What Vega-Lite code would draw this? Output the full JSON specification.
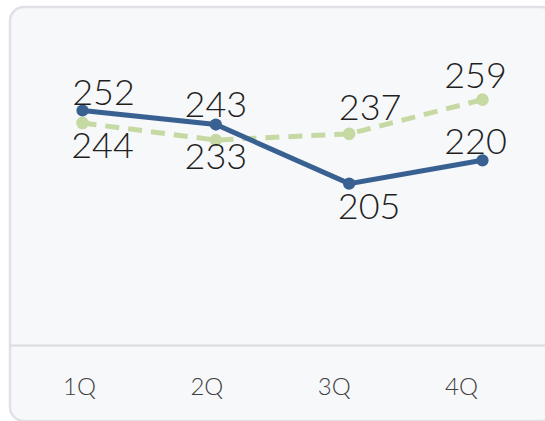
{
  "$schema": "https://vega.github.io/schema/vega-lite/v6.json",
  "autosize": "none",
  "padding": {"left": 10, "top": 7, "right": 0, "bottom": 0},
  "width": 545,
  "height": 414,
  "background": "#ffffff",
  "config": {
    "view": {"fill": "#f7f8fa", "stroke": "#dfe1e6", "strokeWidth": 2.5, "cornerRadius": 14},
    "text": {"font": "Lato", "fontWeight": 300, "fontSize": 36, "color": "#1f1f1f"}
  },
  "data": {
    "values": [
      {"quarter": "1Q", "series": "A", "value": 252},
      {"quarter": "2Q", "series": "A", "value": 243},
      {"quarter": "3Q", "series": "A", "value": 205},
      {"quarter": "4Q", "series": "A", "value": 220},
      {"quarter": "1Q", "series": "B", "value": 244},
      {"quarter": "2Q", "series": "B", "value": 233},
      {"quarter": "3Q", "series": "B", "value": 237},
      {"quarter": "4Q", "series": "B", "value": 259}
    ]
  },
  "resolve": {"scale": {"x": "independent"}, "axis": {"x": "independent"}},
  "layer": [
    {
      "encoding": {
        "x": {"field": "quarter", "type": "ordinal", "scale": {"type": "point", "padding": 0.544}, "axis": null},
        "y": {"field": "value", "type": "quantitative", "scale": {"domain": [52.5, 318.5], "nice": false, "zero": false}, "axis": null},
        "text": {"field": "value", "type": "quantitative"}
      },
      "layer": [
        {
          "transform": [{"filter": "datum.series === 'B'"}],
          "mark": {"type": "line", "color": "#c6d9a3", "strokeWidth": 5, "strokeDash": [14, 9]}
        },
        {
          "transform": [{"filter": "datum.series === 'B'"}],
          "mark": {"type": "point", "filled": true, "opacity": 1, "color": "#c6d9a3", "size": 160}
        },
        {
          "transform": [{"filter": "datum.series === 'A'"}],
          "mark": {"type": "line", "color": "#386192", "strokeWidth": 5}
        },
        {
          "transform": [{"filter": "datum.series === 'A'"}],
          "mark": {"type": "point", "filled": true, "opacity": 1, "color": "#386192", "size": 150}
        },
        {
          "transform": [{"filter": "datum.series === 'A' && datum.quarter === '1Q'"}],
          "mark": {"type": "text", "baseline": "alphabetic", "dy": -6, "dx": 21}
        },
        {
          "transform": [{"filter": "datum.series === 'A' && datum.quarter === '2Q'"}],
          "mark": {"type": "text", "baseline": "alphabetic", "dy": -8, "dx": 0}
        },
        {
          "transform": [{"filter": "datum.series === 'A' && datum.quarter === '4Q'"}],
          "mark": {"type": "text", "baseline": "alphabetic", "dy": -6, "dx": -7}
        },
        {
          "transform": [{"filter": "datum.series === 'B' && datum.quarter === '3Q'"}],
          "mark": {"type": "text", "baseline": "alphabetic", "dy": -14, "dx": 21}
        },
        {
          "transform": [{"filter": "datum.series === 'B' && datum.quarter === '4Q'"}],
          "mark": {"type": "text", "baseline": "alphabetic", "dy": -12, "dx": -7}
        },
        {
          "transform": [{"filter": "(datum.series === 'A' && datum.quarter === '3Q') || (datum.series === 'B' && datum.quarter === '1Q')"}],
          "mark": {"type": "text", "baseline": "top", "dy": 7, "dx": 20}
        },
        {
          "transform": [{"filter": "datum.series === 'B' && datum.quarter === '2Q'"}],
          "mark": {"type": "text", "baseline": "top", "dy": 1, "dx": 0}
        }
      ]
    },
    {
      "mark": {"type": "point", "opacity": 0},
      "encoding": {
        "x": {
          "field": "quarter", "type": "ordinal", "title": null,
          "scale": {"type": "point", "padding": 0.64},
          "axis": {
            "orient": "bottom", "offset": -76, "labelOffset": -12.5, "labelAngle": 0,
            "ticks": false, "domainColor": "#d9dbdf", "domainWidth": 2,
            "labelPadding": 30, "labelFont": "Lato", "labelFontWeight": 300,
            "labelFontSize": 24, "labelColor": "#3f3f3f"
          }
        }
      }
    }
  ]
}
